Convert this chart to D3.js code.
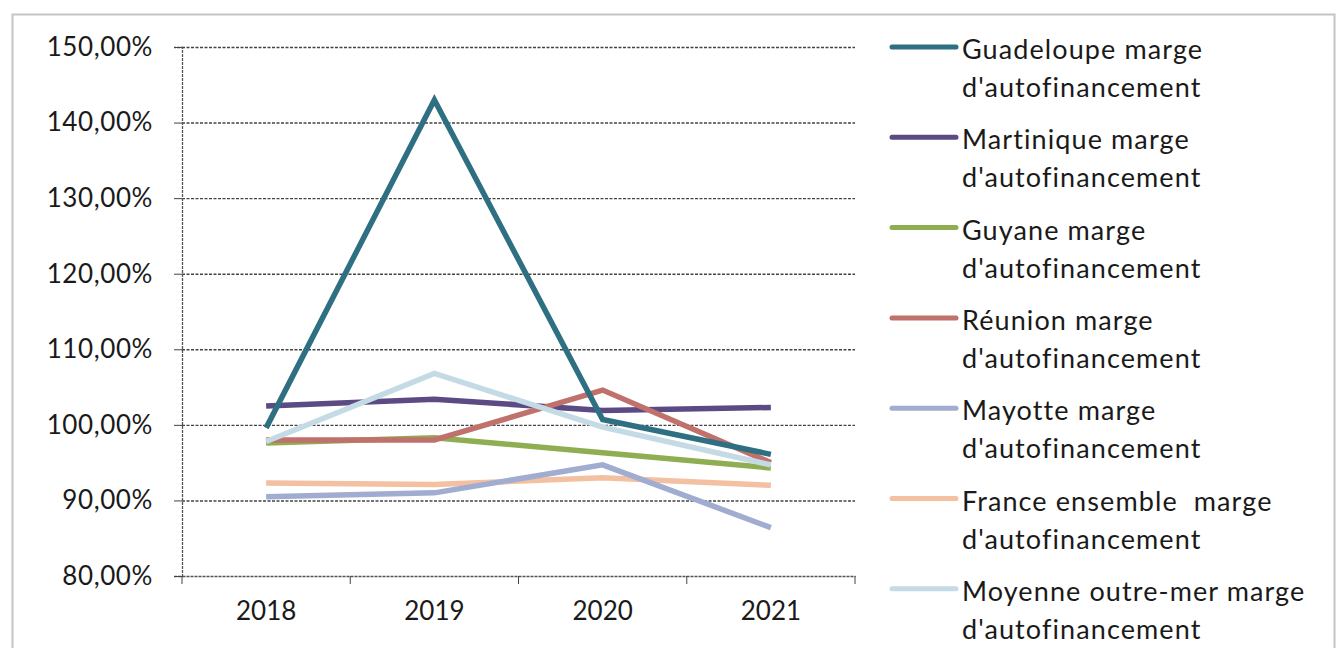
<!DOCTYPE html>
<html>
<head>
<meta charset="utf-8">
<script src="https://cdn.jsdelivr.net/npm/d3@7"></script>
<style>
  body { margin: 0; background: #fff; }
  svg { display: block; font-family: Lato, "Open Sans", sans-serif; font-variant-ligatures: none; }
</style>
</head>
<body>
<svg id="chart" width="1336" height="648"></svg>
<script>
var years = ['2018', '2019', '2020', '2021'];
var seriesNames = [
    ['Guadeloupe marge', "d'autofinancement"],
    ['Martinique marge', "d'autofinancement"],
    ['Guyane marge', "d'autofinancement"],
    ['Réunion marge', "d'autofinancement"],
    ['Mayotte marge', "d'autofinancement"],
    ['France ensemble  marge', "d'autofinancement"],
    ['Moyenne outre-mer marge', "d'autofinancement"]
];
var guadeloupe = [99.6, 143.0, 100.7, 96.1];
var martinique = [102.5, 103.4, 101.9, 102.3];
var guyane     = [97.6, 98.3, 96.3, 94.3];
var reunion    = [98.0, 98.0, 104.6, 95.0];
var mayotte    = [90.5, 91.0, 94.7, 86.4];
var france     = [92.3, 92.1, 93.0, 92.0];
var moyenne    = [97.8, 106.8, 99.7, 94.7];
var yTicks = [80, 90, 100, 110, 120, 130, 140, 150];

var colors = ['#2f6f82', '#5b4a83', '#8fae52', '#c0716b', '#a0add0', '#f3c0a2', '#c4dbe5'];
var allSeries = [guadeloupe, martinique, guyane, reunion, mayotte, france, moyenne];
// drawing order: back to front roughly as in the picture
var drawOrder = [5, 4, 2, 1, 3, 6, 0];

var svg = d3.select('#chart');

var margin = { left: 182, right: 855, top: 47, bottom: 576 };

// outer frame
svg.append('path')
    .attr('d', 'M12.5,648 V14.5 H1334.5 V648')
    .attr('fill', 'none')
    .attr('stroke', '#c4c4c4')
    .attr('stroke-width', 2);

var x = d3.scaleBand().domain(years).range([margin.left, margin.right]);
var y = d3.scaleLinear().domain([80, 150]).range([margin.bottom, margin.top]);

// horizontal dashed gridlines
svg.append('g')
    .selectAll('line')
    .data(yTicks.slice(1))
    .enter().append('line')
        .attr('x1', margin.left).attr('x2', margin.right)
        .attr('y1', function(d){ return y(d) + 0.5; })
        .attr('y2', function(d){ return y(d) + 0.5; })
        .attr('stroke', '#444')
        .attr('stroke-width', 1.4)
        .attr('stroke-dasharray', '3,1.5');

// y axis
var yAxis = svg.append('g')
    .attr('transform', 'translate(' + margin.left + ',0)')
    .call(d3.axisLeft(y).tickValues(yTicks).tickSize(8).tickPadding(21)
        .tickFormat(function(d){ return d3.format('.2f')(d).replace('.', ',') + '%'; }));
yAxis.select('.domain').attr('stroke', '#555').attr('stroke-dasharray', '3,1').attr('stroke-width', 1.3);
yAxis.selectAll('.tick line').attr('stroke', '#444');
yAxis.selectAll('text')
    .attr('font-size', 26)
    .attr('fill', '#1a1a1a')
    .style('letter-spacing', '0.6px')
    .style('font-family', 'Lato, sans-serif');

// x axis
var xAxis = svg.append('g')
    .attr('transform', 'translate(0,' + margin.bottom + ')')
    .call(d3.axisBottom(x).tickSize(0).tickPadding(26));
xAxis.select('.domain').attr('stroke', '#555').attr('stroke-width', 1.3).attr('stroke-dasharray', '3,1');
xAxis.selectAll('text')
    .attr('font-size', 26)
    .attr('fill', '#1a1a1a')
    .style('font-family', 'Lato, sans-serif');
// tick marks at category boundaries
svg.append('g')
    .selectAll('line')
    .data(years.concat(['end']))
    .enter().append('line')
        .attr('x1', function(d, i){ return i < years.length ? x(d) : margin.right; })
        .attr('x2', function(d, i){ return i < years.length ? x(d) : margin.right; })
        .attr('y1', margin.bottom)
        .attr('y2', margin.bottom + 8)
        .attr('stroke', '#444');

// series lines
var line = d3.line()
    .x(function(d, i){ return x(years[i]) + x.bandwidth() / 2; })
    .y(function(d){ return y(d); });

drawOrder.forEach(function(k){
    svg.append('path')
        .datum(allSeries[k])
        .attr('d', line)
        .attr('fill', 'none')
        .attr('stroke', colors[k])
        .attr('stroke-width', 5.5)
        .attr('stroke-linejoin', 'miter');
});

// legend
var legend = svg.append('g').attr('transform', 'translate(892,47)');
seriesNames.forEach(function(name, i){
    var g = legend.append('g').attr('transform', 'translate(0,' + (i * 90.3) + ')');
    g.append('line')
        .attr('x1', 0).attr('x2', 64)
        .attr('y1', 0).attr('y2', 0)
        .attr('stroke', colors[i])
        .attr('stroke-width', 5)
        .attr('stroke-linecap', 'round');
    g.append('text')
        .attr('x', 70).attr('y', 12)
        .attr('font-size', 27)
        .attr('fill', '#1a1a1a')
        .style('letter-spacing', '1.1px')
        .style('white-space', 'pre')
        .text(name[0]);
    g.append('text')
        .attr('x', 70).attr('y', 50)
        .attr('font-size', 27)
        .attr('fill', '#1a1a1a')
        .style('letter-spacing', '1.1px')
        .text(name[1]);
});
</script>
</body>
</html>
